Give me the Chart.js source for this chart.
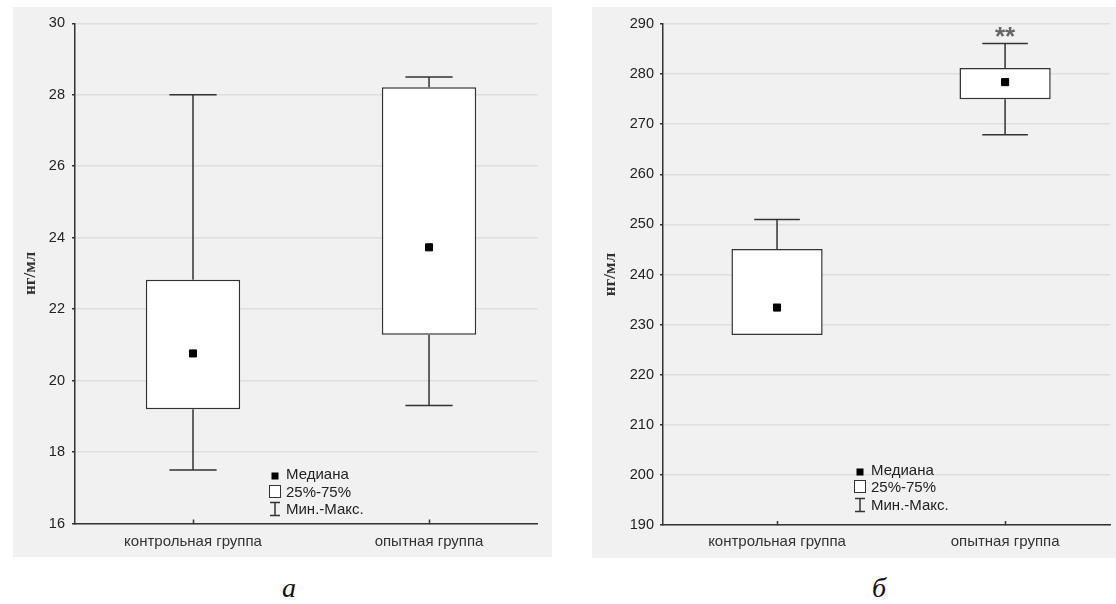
<!DOCTYPE html>
<html lang="ru">
<head>
<meta charset="utf-8">
<title>нг/мл</title>
<script src="https://cdn.jsdelivr.net/npm/chart.js@4.4.1/dist/chart.umd.min.js"></script>
<style>
  html, body { margin: 0; padding: 0; background: #fff; overflow: hidden; }
  #page { position: relative; width: 1116px; height: 604px; overflow: hidden;
          font-family: "Liberation Sans", Arial, sans-serif; }
  canvas { position: absolute; background: #f1f1f1; }
  #chartA { left: 13px; top: 7px; }
  #chartB { left: 592px; top: 7px; }
  .caption { position: absolute; width: 40px; text-align: center; color: #111;
             font: italic 28px/28px "Liberation Serif", "Times New Roman", serif; }
  .legtext { position: absolute; font-size: 15px; line-height: 18px; color: #222; white-space: nowrap; }
  .legicon { position: absolute; }
</style>
</head>
<body>
<div id="page">
  <canvas id="chartA" width="539" height="550"></canvas>
  <canvas id="chartB" width="524" height="551"></canvas>
  <div class="caption" style="left:269px; top:574px">а</div>
  <div class="caption" style="left:859px; top:574px">б</div>
</div>

<script>
  // ── данные ──
  const categories = ['контрольная группа', 'опытная группа'];
  const yTitle = 'нг/мл';
  const legendLabels = ['Медиана', '25%-75%', 'Мин.-Макс.'];

  // панель а
  const minA = [17.5, 19.3];
  const q1A  = [19.2, 21.28];
  const medA = [20.76, 23.73];
  const q3A  = [22.82, 28.21];
  const maxA = [28, 28.5];
  const rangeA = [16, 30, 2];      // min, max, шаг
  const signifA = ['', ''];

  // панель б
  const minB = [227.9, 267.9];
  const q1B  = [227.9, 275];
  const medB = [233.4, 278.4];
  const q3B  = [245.1, 281.2];
  const maxB = [251, 286.1];
  const rangeB = [190, 290, 10];
  const signifB = ['', '**'];

  const AXIS = '#333';
  const FONT = '"Liberation Sans", Arial, sans-serif';

  // ── усы (мин.-макс.), рисуются только за пределами ящика ──
  const whiskerPlugin = {
    id: 'whiskers',
    beforeDatasetsDraw(chart, args, opts) {
      const { ctx, scales: { x, y } } = chart;
      const bars = chart.getDatasetMeta(0).data;
      ctx.save();
      ctx.strokeStyle = AXIS;
      ctx.lineWidth = 1.5;
      opts.min.forEach((lo, i) => {
        const cx = x.getPixelForValue(i);
        const half = bars[i].width / 4;
        const ends = [[opts.max[i], opts.q3[i]], [lo, opts.q1[i]]];
        ends.forEach(([tip, edge]) => {
          if (tip === edge) return;
          const yTip = y.getPixelForValue(tip);
          ctx.beginPath();
          ctx.moveTo(cx, yTip); ctx.lineTo(cx, y.getPixelForValue(edge));
          ctx.moveTo(cx - half, yTip); ctx.lineTo(cx + half, yTip);
          ctx.stroke();
        });
      });
      ctx.restore();
    }
  };

  // ── звёздочки значимости ──
  const signifPlugin = {
    id: 'signif',
    afterDatasetsDraw(chart, args, opts) {
      const { ctx, scales: { x, y } } = chart;
      ctx.save();
      ctx.font = 'bold 26px ' + FONT;
      ctx.fillStyle = '#666';
      ctx.textAlign = 'center';
      ctx.textBaseline = 'alphabetic';
      opts.labels.forEach((t, i) => {
        if (t) ctx.fillText(t, x.getPixelForValue(i), y.getPixelForValue(opts.max[i]) + 1);
      });
      ctx.restore();
    }
  };

  function makeChart(id, p) {
    return new Chart(document.getElementById(id), {
      type: 'bar',
      data: {
        datasets: [
          {
            type: 'bar',
            data: p.q1.map((v, i) => ({ x: i, y: [v, p.q3[i]] })),
            backgroundColor: '#fff',
            borderColor: AXIS,
            borderWidth: 1.5,
            borderSkipped: false,
            barPercentage: 0.4,
            categoryPercentage: 1,
            order: 1
          },
          {
            type: 'scatter',
            data: p.med.map((v, i) => ({ x: i, y: v })),
            pointStyle: 'rect',
            pointRadius: 5,
            borderWidth: 1,
            backgroundColor: '#000',
            borderColor: '#000',
            order: 0
          }
        ]
      },
      options: {
        responsive: false,
        animation: false,
        events: [],
        layout: { padding: { top: p.padTop, right: p.padRight, bottom: 0, left: 0 } },
        plugins: {
          legend: { display: false },
          tooltip: { enabled: false },
          whiskers: { min: p.min, q1: p.q1, q3: p.q3, max: p.max },
          signif: { labels: p.signif, max: p.max }
        },
        scales: {
          x: {
            type: 'linear',
            offset: false,
            min: -0.5,
            max: 1.46,
            afterBuildTicks: s => { s.ticks = categories.map((c, i) => ({ value: i })); },
            afterFit: s => { s.height = p.xHeight; },
            grid: { display: true, offset: false, drawOnChartArea: false, drawTicks: true,
                    tickLength: -4, tickColor: AXIS, tickWidth: 1.5 },
            border: { color: AXIS, width: 1.5 },
            ticks: {
              callback: v => categories[v],
              font: { family: FONT, size: 15 },
              color: AXIS,
              padding: p.xPad,
              maxRotation: 0,
              autoSkip: false
            }
          },
          y: {
            min: p.range[0],
            max: p.range[1],
            afterFit: s => { s.width = p.yWidth; },
            ticks: { stepSize: p.range[2], font: { family: FONT, size: 14.5 }, color: '#222', padding: p.yPad },
            grid: { color: '#dedede', lineWidth: 1.5, tickLength: 3, tickColor: AXIS, tickWidth: 1.5 },
            border: { color: AXIS, width: 1.5 },
            title: {
              display: true,
              text: yTitle,
              font: { family: '"Liberation Serif", "Times New Roman", serif', size: 17, weight: 'bold' },
              color: AXIS,
              padding: { top: p.titlePad, bottom: 0 }
            }
          }
        }
      },
      plugins: [whiskerPlugin, signifPlugin]
    });
  }

  makeChart('chartA', {
    min: minA, q1: q1A, med: medA, q3: q3A, max: maxA, range: rangeA, signif: signifA,
    padTop: 16.3, padRight: 14.4, xHeight: 33.5, yWidth: 62, xPad: 13.5, yPad: 7, titlePad: 7
  });
  makeChart('chartB', {
    min: minB, q1: q1B, med: medB, q3: q3B, max: maxB, range: rangeB, signif: signifB,
    padTop: 17, padRight: 0, xHeight: 33, yWidth: 71, xPad: 12, yPad: 6, titlePad: 8
  });

  // ── легенда ──
  const legendIcons = [
    '<svg width="12" height="12"><rect x="2.5" y="2.5" width="7" height="7" fill="#000"/></svg>',
    '<svg width="12" height="14"><rect x="0.5" y="0.5" width="11" height="12" fill="#fff" stroke="#333"/></svg>',
    '<svg width="12" height="16"><path d="M1 1.5H11M6 1.5V14.5M1 14.5H11" stroke="#333" stroke-width="1.5" fill="none"/></svg>'
  ];
  const iconSizes = [[12, 12], [12, 14], [12, 16]];

  function addLegend(iconX, textX, rows) {
    const page = document.getElementById('page');
    legendLabels.forEach((label, k) => {
      const icon = document.createElement('div');
      icon.className = 'legicon';
      icon.innerHTML = legendIcons[k];
      icon.style.left = (iconX - iconSizes[k][0] / 2) + 'px';
      icon.style.top = (rows[k] - iconSizes[k][1] / 2) + 'px';
      icon.style.height = iconSizes[k][1] + 'px';
      page.appendChild(icon);

      const txt = document.createElement('div');
      txt.className = 'legtext';
      txt.textContent = label;
      txt.style.left = textX + 'px';
      txt.style.top = (rows[k] - 9) + 'px';
      page.appendChild(txt);
    });
  }

  addLegend(274.5, 286, [474, 491.5, 509]);
  addLegend(860, 871, [469.5, 487, 505]);
</script>
</body>
</html>
